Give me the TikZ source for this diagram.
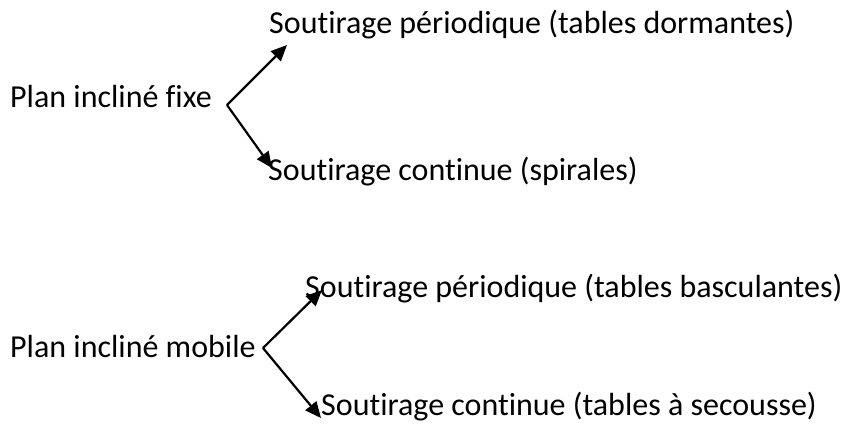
\documentclass[tikz,border=0pt]{standalone}
\usepackage{fontspec}
\setmainfont{Carlito}[Ligatures=NoCommon]
\usetikzlibrary{arrows.meta}
\begin{document}
\begin{tikzpicture}[x=1pt,y=1pt,
  lbl/.style={anchor=base west,inner sep=0pt,font=\fontsize{32}{38}\selectfont},
  arr/.style={line width=2.2pt,-{Triangle[length=16pt,width=14pt]}}]
\useasboundingbox (0,0) rectangle (846,-424);
\node[lbl] (t1) at (269,-33) {Soutirage périodique (tables dormantes)};
\node[lbl] (p1) at (10,-107) {Plan incliné fixe};
\node[lbl] (t2) at (268,-180) {Soutirage continue (spirales)};
\node[lbl] (t3) at (305,-297) {Soutirage périodique (tables basculantes)};
\node[lbl] (p2) at (10,-357) {Plan incliné mobile};
\node[lbl] (t4) at (321,-415) {Soutirage continue (tables à secousse)};
\coordinate (v1) at (227,-105);
\coordinate (e1) at (287,-45);
\coordinate (e2) at (272,-168);
\coordinate (v2) at (263,-348);
\coordinate (e3) at (322,-290);
\coordinate (e4) at (321,-418);
\draw[arr] (v1) -- (e1);
\draw[arr] (v1) -- (e2);
\draw[arr] (v2) -- (e3);
\draw[arr] (v2) -- (e4);
\end{tikzpicture}
\end{document}
